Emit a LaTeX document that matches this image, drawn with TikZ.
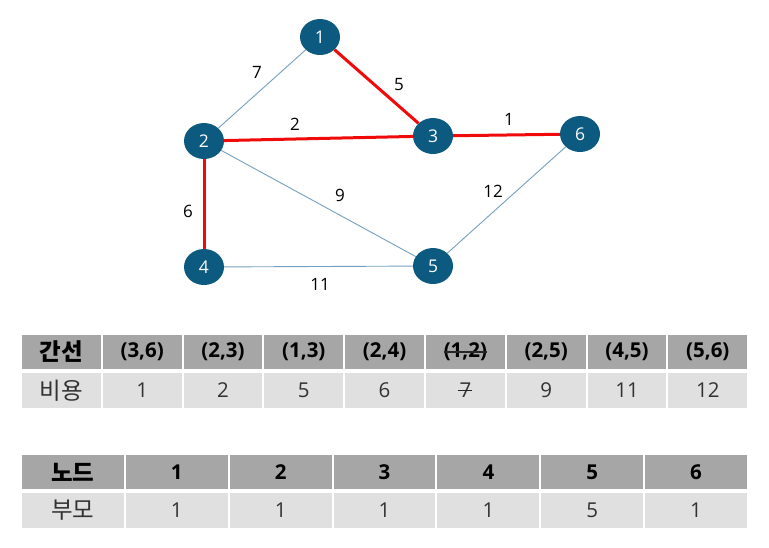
\documentclass[tikz,border=0pt]{standalone}
\usepackage{fontspec}
\setmainfont{Open Sans}
\newfontfamily\kr{Noto Sans CJK KR}
\newcommand\krt{\kr\fontsize{23.5}{23.5}\selectfont}
\usetikzlibrary{shapes.geometric,calc}
\definecolor{nodeblue}{RGB}{12,90,128}
\definecolor{thinedge}{RGB}{115,160,190}
\definecolor{hdr}{RGB}{166,166,166}
\definecolor{rowc}{RGB}{224,224,224}
\definecolor{rowtext}{RGB}{50,50,50}
\definecolor{redge}{RGB}{240,10,10}
\begin{document}
\begin{tikzpicture}[x=1pt,y=-1pt,
  vtx/.style={ellipse, fill=nodeblue, minimum width=40pt, minimum height=36pt, inner sep=0pt, text=white, font=\fontsize{17.5}{17.5}\selectfont},
  wlabel/.style={font=\fontsize{17}{17}\selectfont, text=black, inner sep=0pt},
  thin/.style={draw=thinedge, line width=0.9pt},
  mst/.style={draw=redge, line width=3pt},
  hcell/.style={fill=hdr, inner sep=0pt, text=black, font=\fontsize{20.5}{20.5}\selectfont\bfseries},
  rcell/.style={fill=rowc, inner sep=0pt, text=rowtext, font=\fontsize{20.5}{20.5}\selectfont},
  strike/.style={draw=black!85, line width=1.2pt}
]
\useasboundingbox (0,0) rectangle (769,547);

% graph nodes
\node[vtx] (n1) at (320,37) {1};
\node[vtx] (n2) at (204,141) {2};
\node[vtx] (n3) at (433,136) {3};
\node[vtx] (n6) at (580,134) {6};
\node[vtx] (n4) at (204,267) {4};
\node[vtx] (n5) at (433,266) {5};

% edges
\draw[thin] (n1) -- (n2);
\draw[thin] (n2) -- (n5);
\draw[thin] (n6) -- (n5);
\draw[thin] (n4) -- (n5);
\draw[mst] (n1) -- (n3);
\draw[mst] (n2) -- (n3);
\draw[mst] (n3) -- (n6);
\draw[mst] (n2) -- (n4);

% edge weights
\node[wlabel] (w12) at (257,72) {7};
\node[wlabel] (w13) at (399,85) {5};
\node[wlabel] (w23) at (295,124) {2};
\node[wlabel] (w36) at (509,119) {1};
\node[wlabel] (w25) at (340,195) {9};
\node[wlabel] (w56) at (493,191) {12};
\node[wlabel] (w24) at (188,211) {6};
\node[wlabel] (w45) at (320,284) {11};

% table 1
\def\cwA{80.8}
\foreach \t [count=\i from 0] in {{\krt 간선},{(3,6)},{(2,3)},{(1,3)},{(2,4)},{},{(2,5)},{(4,5)},{(5,6)}}{
  \node[hcell, minimum width=\cwA pt-2pt, minimum height=34pt] (ta\i) at ({21+\cwA*(\i+0.5)},352) {\t};
}
\foreach \t [count=\i from 0] in {{\krt\mdseries 비용},1,2,5,6,{},9,11,12}{
  \node[rcell, minimum width=\cwA pt-2pt, minimum height=35pt] (tb\i) at ({21+\cwA*(\i+0.5)},390.5) {\t};
}
\node[font=\fontsize{20.5}{20.5}\selectfont\bfseries, inner sep=0pt] (sa) at (ta5) {(1,2)};
\draw[strike] (sa.west) -- (sa.east);
\node[font=\fontsize{20.5}{20.5}\selectfont, text=rowtext, inner sep=0pt] (sb) at (tb5) {7};
\draw[strike] ([xshift=-1pt]sb.west) -- ([xshift=1pt]sb.east);

% table 2
\def\cwB{103.86}
\foreach \t [count=\i from 0] in {{\krt 노드},1,2,3,4,5,6}{
  \node[hcell, minimum width=\cwB pt-2pt, minimum height=34pt] (tc\i) at ({21+\cwB*(\i+0.5)},472) {\t};
}
\foreach \t [count=\i from 0] in {{\krt 부모},1,1,1,1,5,1}{
  \node[rcell, minimum width=\cwB pt-2pt, minimum height=35pt] (td\i) at ({21+\cwB*(\i+0.5)},510.5) {\t};
}
\end{tikzpicture}
\end{document}
